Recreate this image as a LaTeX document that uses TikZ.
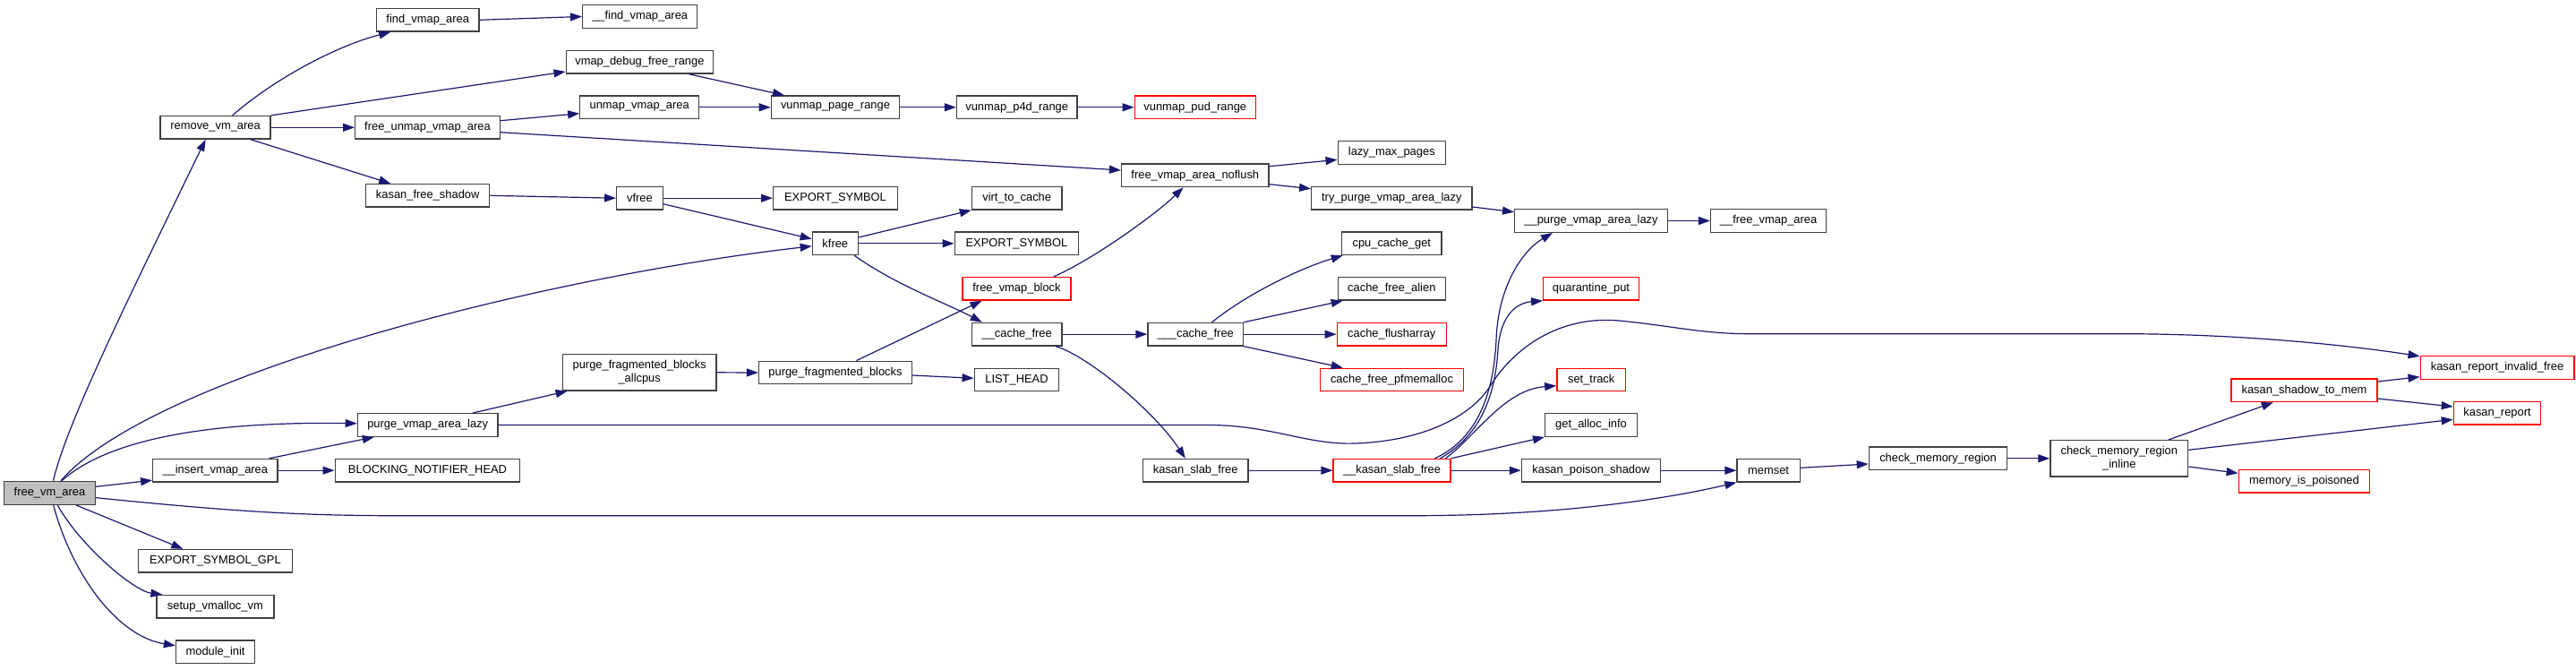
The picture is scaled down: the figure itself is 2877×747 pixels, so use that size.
\documentclass[tikz,border=0pt]{standalone}
\usepackage{fontspec}
\setmainfont{Liberation Sans}
\usetikzlibrary{arrows.meta}
\definecolor{edgeblue}{HTML}{191970}
\definecolor{boxline}{HTML}{404040}
\definecolor{rootfill}{HTML}{BFBFBF}
\definecolor{trunc}{HTML}{FF0000}
\tikzset{
  fn/.style={draw=boxline, line width=1.3pt, fill=white, inner sep=0pt,
    minimum height=25.6pt, font=\fontsize{12.9}{15}\selectfont, align=center},
  fnred/.style={fn, draw=trunc},
  ed/.style={draw=edgeblue, line width=1.2pt, -{Triangle[length=13pt,width=9pt]}}
}
\begin{document}
\begin{tikzpicture}[x=1pt,y=-1pt]
\useasboundingbox[fill=white] (0,0) rectangle (2877,747);
% nodes
\node[fn, fill=rootfill, minimum width=102pt, minimum height=26pt] (fvm) at (55.5,550.3) {free\_vm\_area};
\node[fn, minimum width=123pt] (rvm) at (240.6,142.3) {remove\_vm\_area};
\node[fn, minimum width=114.3pt] (fva) at (477.7,22.3) {find\_vmap\_area};
\node[fn, minimum width=128.2pt] (ufva) at (714.7,18.5) {\_\_find\_vmap\_area};
\node[fn, minimum width=164.5pt] (vdfr) at (714.4,69.3) {vmap\_debug\_free\_range};
\node[fn, minimum width=161.6pt] (fuva) at (477.5,142.3) {free\_unmap\_vmap\_area};
\node[fn, minimum width=132.8pt] (uva) at (714.2,119.8) {unmap\_vmap\_area};
\node[fn, minimum width=143.3pt] (vpr) at (933,119.8) {vunmap\_page\_range};
\node[fn, minimum width=134.5pt] (vp4r) at (1135.7,119.8) {vunmap\_p4d\_range};
\node[fnred, minimum width=135pt] (vpudr) at (1334.8,119.8) {vunmap\_pud\_range};
\node[fn, minimum width=138.2pt] (kfs) at (477.7,218.3) {kasan\_free\_shadow};
\node[fn, minimum width=51.5pt] (vfree) at (714.4,221.2) {vfree};
\node[fn, minimum width=138.7pt] (es1) at (933,221.2) {EXPORT\_SYMBOL};
\node[fn, minimum width=164.4pt] (fvan) at (1334.8,195.8) {free\_vmap\_area\_noflush};
\node[fn, minimum width=100.5pt] (vtc) at (1135.7,221.2) {virt\_to\_cache};
\node[fn, minimum width=51pt] (kfree) at (932.8,271.8) {kfree};
\node[fn, minimum width=138.6pt] (es2) at (1135.5,271.8) {EXPORT\_SYMBOL};
\node[fnred, minimum width=121.2pt] (fvb) at (1135.5,322.3) {free\_vmap\_block};
\node[fn, minimum width=100.5pt] (ucf) at (1135.7,373.2) {\_\_cache\_free};
\node[fn, minimum width=106.5pt] (uucf) at (1335.2,373.2) {\_\_\_cache\_free};
\node[fn, minimum width=120.3pt] (lmp) at (1554.3,170.5) {lazy\_max\_pages};
\node[fn, minimum width=179.1pt] (tpval) at (1554.3,221.2) {try\_purge\_vmap\_area\_lazy};
\node[fn, minimum width=170.8pt] (upval) at (1777,246.5) {\_\_purge\_vmap\_area\_lazy};
\node[fn, minimum width=129pt] (ufrva) at (1975.1,246.5) {\_\_free\_vmap\_area};
\node[fn, minimum width=111.1pt] (ccg) at (1554.3,271.8) {cpu\_cache\_get};
\node[fn, minimum width=120.3pt] (cfa) at (1554.3,322.3) {cache\_free\_alien};
\node[fnred, minimum width=106.6pt] (qp) at (1777,322.3) {quarantine\_put};
\node[fnred, minimum width=122.1pt] (cfl) at (1554.3,373.2) {cache\_flusharray};
\node[fnred, minimum width=160.3pt] (cfp) at (1554.5,424) {cache\_free\_pfmemalloc};
\node[fnred, minimum width=76.7pt] (st) at (1777.2,424) {set\_track};
\node[fn, minimum width=102.8pt] (gai) at (1777,474.5) {get\_alloc\_info};
\node[fnred, minimum width=130.9pt] (ksf) at (1554.5,525.2) {\_\_kasan\_slab\_free};
\node[fn, minimum width=155.2pt] (kps) at (1777,525.2) {kasan\_poison\_shadow};
\node[fn, minimum width=70.2pt] (ms) at (1975.1,525.2) {memset};
\node[fn, minimum width=154.3pt] (cmr) at (2164.5,511.8) {check\_memory\_region};
\node[fn, minimum width=153.8pt, minimum height=40.3pt] (cmri) at (2366.8,511.8) {check\_memory\_region\\\_inline};
\node[fnred, minimum width=163pt] (kstm) at (2573.5,435.8) {kasan\_shadow\_to\_mem};
\node[fnred, minimum width=171.7pt] (krif) at (2789,410.5) {kasan\_report\_invalid\_free};
\node[fnred, minimum width=97.4pt] (kr) at (2789,461.2) {kasan\_report};
\node[fnred, minimum width=146.5pt] (mip) at (2573.5,537.2) {memory\_is\_poisoned};
\node[fn, minimum width=156.6pt] (pval) at (477.7,474.5) {purge\_vmap\_area\_lazy};
\node[fn, minimum width=139.1pt] (uiva) at (240.3,525.2) {\_\_insert\_vmap\_area};
\node[fn, minimum width=206.6pt] (bnh) at (477.5,525.2) {BLOCKING\_NOTIFIER\_HEAD};
\node[fn, minimum width=172.1pt] (esg) at (240.4,626.3) {EXPORT\_SYMBOL\_GPL};
\node[fn, minimum width=130.9pt] (svv) at (240.4,677.2) {setup\_vmalloc\_vm};
\node[fn, minimum width=88.2pt] (mi) at (240.6,727.8) {module\_init};
\node[fn, minimum width=171.4pt, minimum height=40.3pt] (pfba) at (714.2,415.8) {purge\_fragmented\_blocks\\\_allcpus};
\node[fn, minimum width=170.8pt] (pfb) at (933,416) {purge\_fragmented\_blocks};
\node[fn, minimum width=94.6pt] (lh) at (1135.5,424) {LIST\_HEAD};
\node[fn, minimum width=117.5pt] (ksfree) at (1335.2,525.2) {kasan\_slab\_free};
% edges from free_vm_area
\draw[ed] ([xshift=4pt]fvm.north) .. controls (75,470) and (150,320) .. ([xshift=-11pt]rvm.south);
\draw[ed] ([xshift=12.5pt]fvm.north) .. controls (170,420) and (600,310) .. ([yshift=-3pt]kfree.west);
\draw[ed] ([xshift=13.5pt]fvm.north) .. controls (110,500) and (200,470) .. ([yshift=1.8pt]pval.west);
\draw[ed] ([yshift=7pt]fvm.east) -- ([yshift=-11pt]uiva.west);
\draw[ed] ([yshift=-5.4pt]fvm.east) .. controls (250,570) and (330,575.7) .. (440.8,575.7) -- (1577.7,575.7) .. controls (1750,575.7) and (1870,555) .. (ms.south west);
\draw[ed] ([xshift=29.5pt]fvm.south) -- ([xshift=-36pt]esg.north);
\draw[ed] ([xshift=8.8pt]fvm.south) .. controls (90,610) and (150,660) .. ([xshift=-59pt]svv.north);
\draw[ed] ([xshift=4.2pt]fvm.south) .. controls (80,640) and (130,710) .. ([yshift=7pt]mi.west);
% remove_vm_area
\draw[ed] ([xshift=19pt]rvm.north) .. controls (310,85) and (380,50) .. ([xshift=-41.5pt]fva.south);
\draw[ed] (rvm.north east) -- ([yshift=-10.7pt]vdfr.west);
\draw[ed] (rvm.east) -- (fuva.west);
\draw[ed] ([xshift=39.4pt]rvm.south) -- ([xshift=-41.5pt]kfs.north);
\draw[ed] (fva.east) -- (ufva.west);
\draw[ed] ([yshift=7.6pt]fuva.east) -- ([yshift=-6.9pt]uva.west);
\draw[ed] ([yshift=-5.4pt]fuva.east) -- ([yshift=5.8pt]fvan.west);
\draw[ed] (kfs.east) -- (vfree.west);
\draw[ed] ([xshift=55.2pt]vdfr.south) -- ([xshift=-57pt]vpr.north);
\draw[ed] (uva.east) -- (vpr.west);
\draw[ed] (vpr.east) -- (vp4r.west);
\draw[ed] (vp4r.east) -- (vpudr.west);
\draw[ed] (vfree.east) -- (es1.west);
\draw[ed] ([yshift=-6.5pt]vfree.east) -- ([yshift=5pt]kfree.west);
\draw[ed] ([yshift=6.8pt]kfree.east) -- (vtc.south west);
\draw[ed] (kfree.east) -- (es2.west);
\draw[ed] ([xshift=21.4pt]kfree.south) .. controls (1000,318) and (1060,340) .. ([xshift=-39pt]ucf.north);
\draw[ed] ([xshift=41.3pt]fvb.north) .. controls (1220,290) and (1290,240) .. ([xshift=-13.3pt]fvan.south);
\draw[ed] ([xshift=23.5pt]pfb.north) -- ([xshift=-39pt]fvb.south);
\draw[ed] (ucf.east) -- (uucf.west);
\draw[ed] ([xshift=18.4pt]uucf.north) .. controls (1390,330) and (1450,300) .. ([xshift=-54.6pt]ccg.south);
\draw[ed] (uucf.north east) -- ([xshift=-54.6pt]cfa.south);
\draw[ed] (uucf.east) -- (cfl.west);
\draw[ed] (uucf.south east) -- ([xshift=-54.8pt]cfp.north);
\draw[ed] ([yshift=10.1pt]fvan.east) -- ([yshift=-7.8pt]lmp.west);
\draw[ed] ([yshift=-9.9pt]fvan.east) -- ([yshift=10.5pt]tpval.west);
\draw[ed] ([yshift=-9.8pt]tpval.east) -- ([yshift=9.8pt]upval.west);
\draw[ed] (upval.east) -- (ufrva.west);
\draw[ed] ([xshift=43.3pt]ucf.south) .. controls (1215,397) and (1290,460) .. ([xshift=-11.4pt]ksfree.north);
\draw[ed] (ksfree.east) -- (ksf.west);
\draw[ed] (pfba.east) -- (pfb.west);
\draw[ed] ([xshift=50.3pt]pval.north) -- ([xshift=-80.6pt]pfba.south);
\draw[ed] ([xshift=60.4pt]uiva.north) -- ([xshift=-59.9pt]pval.south);
\draw[ed] (uiva.east) -- (bnh.west);
\draw[ed] ([yshift=-3pt]pfb.east) -- ([yshift=1.7pt]lh.west);
\draw[ed] (pval.east) -- (1349,474.5) .. controls (1420,474.5) and (1460,497) .. (1513,495) .. controls (1580,493) and (1640,470) .. (1665,430) .. controls (1690,390) and (1740,352) .. (1808,358) .. controls (1870,364) and (1900,372.7) .. (1955,372.7) -- (2370,372.7) .. controls (2500,372.7) and (2620,385) .. ([yshift=12.8pt]krif.west);
% __kasan_slab_free
\draw[ed] ([xshift=48pt]ksf.north) .. controls (1650,490) and (1668,440) .. (1671,380) .. controls (1673,320) and (1700,280) .. ([xshift=-43pt]upval.south);
\draw[ed] ([xshift=54pt]ksf.north) .. controls (1655,485) and (1670,440) .. (1673,390) .. controls (1676,350) and (1695,338) .. (qp.south west);
\draw[ed] ([xshift=60pt]ksf.north) .. controls (1650,485) and (1680,435) .. ([yshift=-6.7pt]st.west);
\draw[ed] (ksf.north east) -- (gai.south west);
\draw[ed] (ksf.east) -- (kps.west);
\draw[ed] (kps.east) -- (ms.west);
\draw[ed] ([yshift=2.9pt]ms.east) -- ([yshift=-6.2pt]cmr.west);
\draw[ed] (cmr.east) -- (cmri.west);
\draw[ed] ([xshift=55pt]cmri.north) -- ([xshift=-34.7pt]kstm.south);
\draw[ed] ([yshift=9.5pt]cmri.east) -- ([yshift=-7.1pt]kr.west);
\draw[ed] ([yshift=-9.2pt]cmri.east) -- ([yshift=8.9pt]mip.west);
\draw[ed] ([yshift=9.8pt]kstm.east) -- ([yshift=-10.2pt]krif.west);
\draw[ed] ([yshift=-9.2pt]kstm.east) -- ([yshift=7.2pt]kr.west);
\end{tikzpicture}
\end{document}
